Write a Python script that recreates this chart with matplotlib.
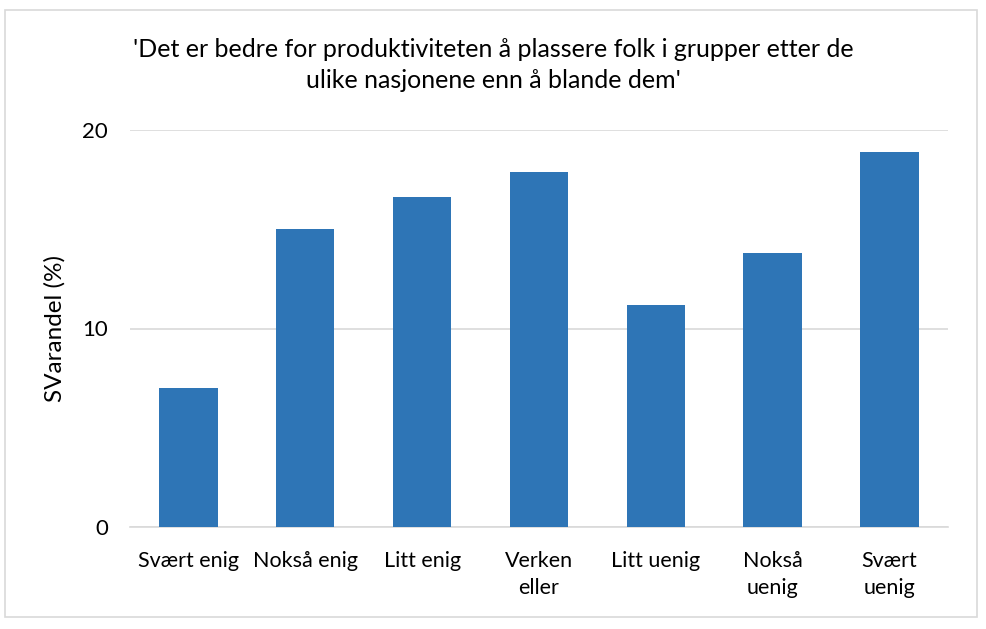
import matplotlib
matplotlib.use('Agg')
import matplotlib.pyplot as plt
from matplotlib.patches import Rectangle

# data
kategorier = ['Svært enig', 'Nokså enig', 'Litt enig', 'Verken\neller',
              'Litt uenig', 'Nokså\nuenig', 'Svært\nuenig']
andel = [7.0, 15.0, 16.6, 17.9, 11.2, 13.8, 18.9]
y_ticks = [0, 10, 20]

plt.rcParams['font.family'] = ['Lato', 'DejaVu Sans']

fig = plt.figure(figsize=(9.87, 6.29), dpi=100)
ax = fig.add_axes([130 / 987, 1 - 527 / 629, 818 / 987, 397 / 629])

ax.bar(range(len(andel)), andel, width=0.5, color='#2E75B6', zorder=3)
ax.set_xlim(-0.5, len(andel) - 0.5)
ax.set_ylim(0, 20)
ax.set_yticks(y_ticks)
ax.set_xticks(range(len(kategorier)))
ax.set_xticklabels(kategorier, fontsize=15.5, linespacing=1.45)
ax.tick_params(axis='y', labelsize=16, length=0, pad=16)
ax.tick_params(axis='x', length=0, pad=17)
ax.yaxis.grid(True, color='#D9D9D9', linewidth=1.2, zorder=0)
for s in ['top', 'right', 'left']:
    ax.spines[s].set_visible(False)
ax.spines['bottom'].set_color('#D9D9D9')
ax.spines['bottom'].set_linewidth(1.2)
ax.set_ylabel('SVarandel (%)', fontsize=17.5, labelpad=12)

fig.text(0.5, 1 - 65 / 629, "'Det er bedre for produktiviteten å plassere folk i grupper etter de\nulike nasjonene enn å blande dem'",
         ha='center', va='center', fontsize=18, linespacing=1.4)

# ramme rundt diagrammet
fig.patches.append(Rectangle((5 / 987, 1 - 617 / 629), 972 / 987, 607 / 629,
                             transform=fig.transFigure, fill=False,
                             edgecolor='#D9D9D9', linewidth=1.2))

fig.savefig('out.png', dpi=100, facecolor='white')
